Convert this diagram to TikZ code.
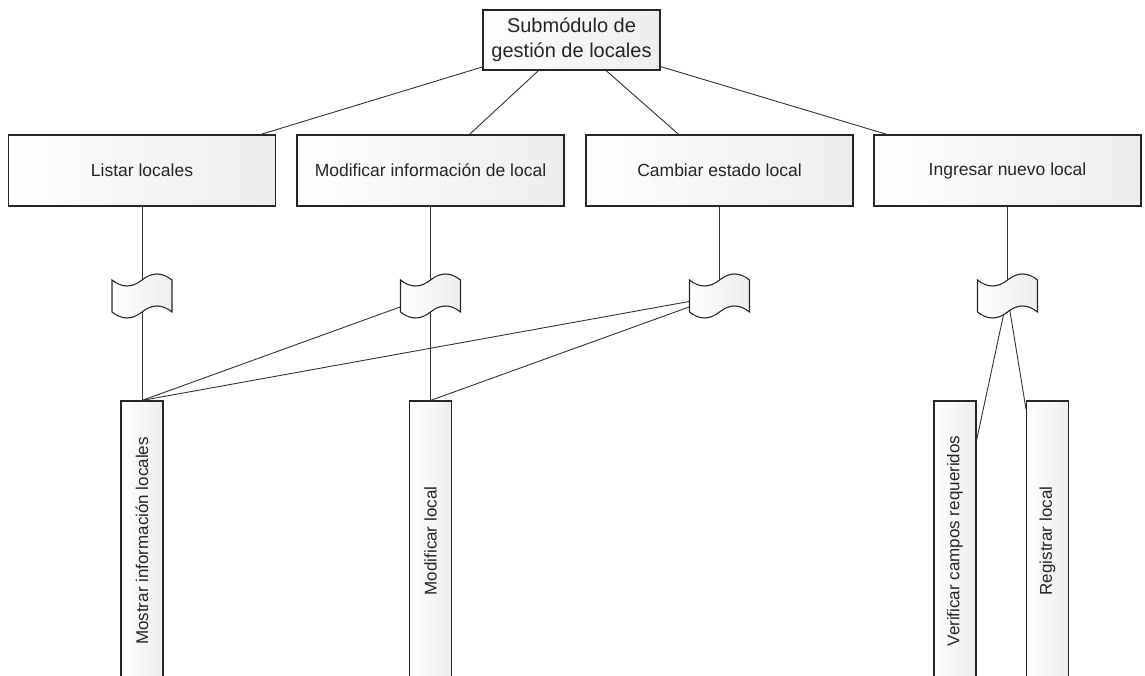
\documentclass[tikz,border=0pt]{standalone}
\usepackage{fontspec}
\setmainfont{Liberation Sans}
\usepackage{graphicx}
\definecolor{edge}{HTML}{333333}
\definecolor{ink}{HTML}{262626}
\begin{document}
\begin{tikzpicture}[x=1pt,y=-1pt,
  box/.style={draw=black!85, line width=1.1pt, left color=white, right color=black!7,
              text=ink, inner sep=0pt, align=center},
  topbox/.style={box, minimum width=177pt, minimum height=60pt,
                 font=\fontsize{20}{25}\selectfont},
  taskbox/.style={box, minimum width=267pt, minimum height=71pt,
                  font=\fontsize{17.5}{21}\selectfont},
  leafbox/.style={box, minimum width=42pt, minimum height=280pt,
                  font=\fontsize{17}{20}\selectfont},
  flagnode/.style={minimum width=60pt, minimum height=38pt, inner sep=0pt},
  flagwave/.style={draw=black!85, line width=1.1pt, left color=white, right color=black!7},
  link/.style={draw=edge, line width=0.9pt}]

\useasboundingbox (0,0) rectangle (1145,676);
\clip (0,0) rectangle (1145,676);

% root module
\node[topbox] (top) at (571.5,40) {Submódulo de\\gestión de locales};

% second level tasks
\node[taskbox] (t1) at (142,170.5)   {Listar locales};
\node[taskbox] (t2) at (430.5,170.5) {Modificar información de local};
\node[taskbox] (t3) at (719.5,170.5) {Cambiar estado local};
\node[taskbox] (t4) at (1007.5,170.5) {Ingresar nuevo local};

% document (flag) markers
\node[flagnode] (f1) at (142,296)   {};
\node[flagnode] (f2) at (430.5,296) {};
\node[flagnode] (f3) at (719.5,296) {};
\node[flagnode] (f4) at (1007.5,296) {};

% leaf operations
\node[leafbox] (l1) at (142,541)    {\rotatebox{90}{Mostrar información locales}};
\node[leafbox] (l2) at (430.5,541)  {\rotatebox{90}{Modificar local}};
\node[leafbox] (l3) at (955,541)    {\rotatebox{90}{Verificar campos requeridos}};
\node[leafbox] (l4) at (1047.5,541) {\rotatebox{90}{Registrar local}};

% connectors
\draw[link] (top) -- (t1);
\draw[link] (top) -- (t2);
\draw[link] (top) -- (t3);
\draw[link] (top) -- (t4);

\draw[link] (t1) -- (f1.center);
\draw[link] (t2) -- (f2.center);
\draw[link] (t3) -- (f3.center);
\draw[link] (t4) -- (f4.center);

\draw[link] (f1.center) -- (l1.north);
\draw[link] (f2.center) -- (l1.north);
\draw[link] (f3.center) -- (l1.north);
\draw[link] (f2.center) -- (l2.north);
\draw[link] (f3.center) -- (l2.north);
\draw[link] (f4.center) -- (l3);
\draw[link] (f4.center) -- (l4);

% wavy flag outlines drawn over the connector ends
\foreach \f in {f1,f2,f3,f4}{
  \draw[flagwave, shift={(\f.center)}]
    (-30,-16) .. controls (-20,-8) and (-10,-8) .. (0,-16)
              .. controls (10,-24) and (20,-24) .. (30,-16)
    -- (30,16) .. controls (20,8) and (10,8) .. (0,16)
               .. controls (-10,24) and (-20,24) .. (-30,16)
    -- cycle;
}
\end{tikzpicture}
\end{document}
